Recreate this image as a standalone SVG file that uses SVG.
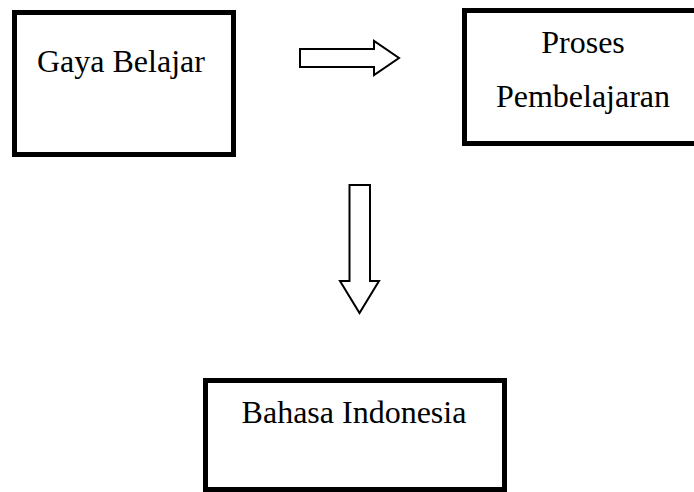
<svg xmlns="http://www.w3.org/2000/svg" width="694" height="492" viewBox="0 0 694 492">
<style>
.box{fill:#fff;stroke:#000;stroke-width:5}
.arr{fill:#fff;stroke:#000;stroke-width:2;stroke-linejoin:miter}
.t{font-family:"Liberation Serif","Times New Roman",serif;font-size:32px;fill:#000}
</style>
<rect width="694" height="492" fill="#fff"/>
<g id="gaya-belajar">
<rect class="box" x="14.5" y="12.5" width="219" height="142"/>
<text class="t" x="37" y="72">Gaya Belajar</text>
</g>
<g id="proses-pembelajaran">
<rect class="box" x="464.5" y="10.5" width="232" height="133"/>
<text class="t" x="583" y="53" text-anchor="middle">Proses</text>
<text class="t" x="583" y="107" text-anchor="middle">Pembelajaran</text>
</g>
<g id="bahasa-indonesia">
<rect class="box" x="205.5" y="380.5" width="299" height="109"/>
<text class="t" x="354" y="423" text-anchor="middle">Bahasa Indonesia</text>
</g>
<g id="connectors">
<polygon class="arr" points="300,49 374,49 374,41 399,58 374,75 374,67 300,67"/>
<polygon class="arr" points="349.5,185 370,185 370,281 379,281 359.5,313 340,281 349.5,281"/>
</g>
</svg>
